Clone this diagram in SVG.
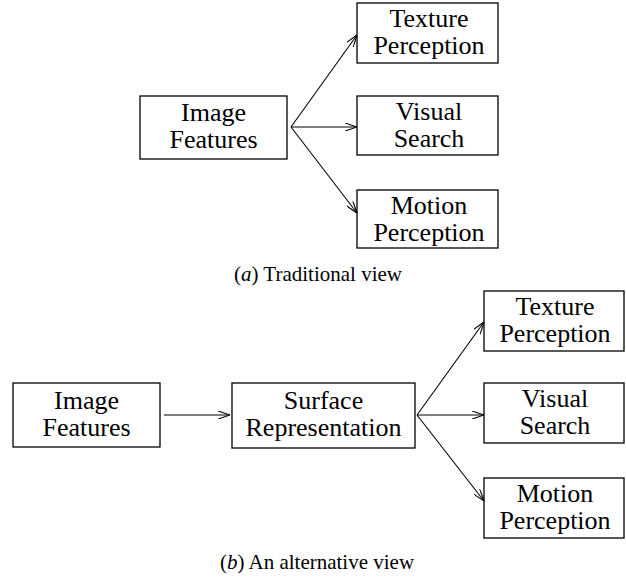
<svg xmlns="http://www.w3.org/2000/svg" width="626" height="577" viewBox="0 0 626 577" font-family="Liberation Serif, Times New Roman, serif">
<style>
rect{fill:#fff;stroke:#000;stroke-width:1.3}
text{font-size:26px;text-anchor:middle;fill:#000}
.cap{font-size:21px}
.con path{fill:none;stroke:#000;stroke-width:1.1}
</style>
<defs>
<marker id="ah" viewBox="0 0 12 8" refX="12" refY="4" markerWidth="12" markerHeight="8" markerUnits="userSpaceOnUse" orient="auto">
<path d="M0,0 L12,4 L0,8" fill="none" stroke="#000" stroke-width="1.1"/>
</marker>
</defs>
<rect x="0" y="0" width="626" height="577" style="stroke:none"/>
<g id="a-image"><rect x="140" y="96" width="147" height="63"/><text x="213.5" y="121">Image</text><text x="213.5" y="148">Features</text></g>
<g id="a-texture"><rect x="357" y="3" width="141" height="60"/><text x="429" y="27">Texture</text><text x="429" y="54">Perception</text></g>
<g id="a-visual"><rect x="357" y="96" width="141" height="59"/><text x="429" y="120">Visual</text><text x="429" y="147">Search</text></g>
<g id="a-motion"><rect x="357" y="190" width="141" height="58"/><text x="429" y="214">Motion</text><text x="429" y="241">Perception</text></g>
<text class="cap" x="318" y="281">(<tspan font-style="italic">a</tspan>) Traditional view</text>
<g id="b-image"><rect x="13" y="383" width="147" height="64"/><text x="86.5" y="409">Image</text><text x="86.5" y="436">Features</text></g>
<g id="b-surface"><rect x="232" y="383" width="183" height="65"/><text x="323.5" y="409">Surface</text><text x="323.5" y="436">Representation</text></g>
<g id="b-texture"><rect x="484" y="291" width="140" height="60"/><text x="555" y="315">Texture</text><text x="555" y="342">Perception</text></g>
<g id="b-visual"><rect x="484" y="383" width="140" height="60"/><text x="555" y="407">Visual</text><text x="555" y="434">Search</text></g>
<g id="b-motion"><rect x="484" y="478" width="140" height="60"/><text x="555" y="502">Motion</text><text x="555" y="529">Perception</text></g>
<text class="cap" x="317" y="569">(<tspan font-style="italic">b</tspan>) An alternative view</text>
<g class="con">
<path d="M291,127 L357,35" marker-end="url(#ah)"/>
<path d="M291,127 L357,127" marker-end="url(#ah)"/>
<path d="M291,127 L357,213" marker-end="url(#ah)"/>
<path d="M164,415 L230,415" marker-end="url(#ah)"/>
<path d="M417,415 L484,322" marker-end="url(#ah)"/>
<path d="M417,415 L484,415" marker-end="url(#ah)"/>
<path d="M417,415 L484,501" marker-end="url(#ah)"/>
</g>
</svg>
